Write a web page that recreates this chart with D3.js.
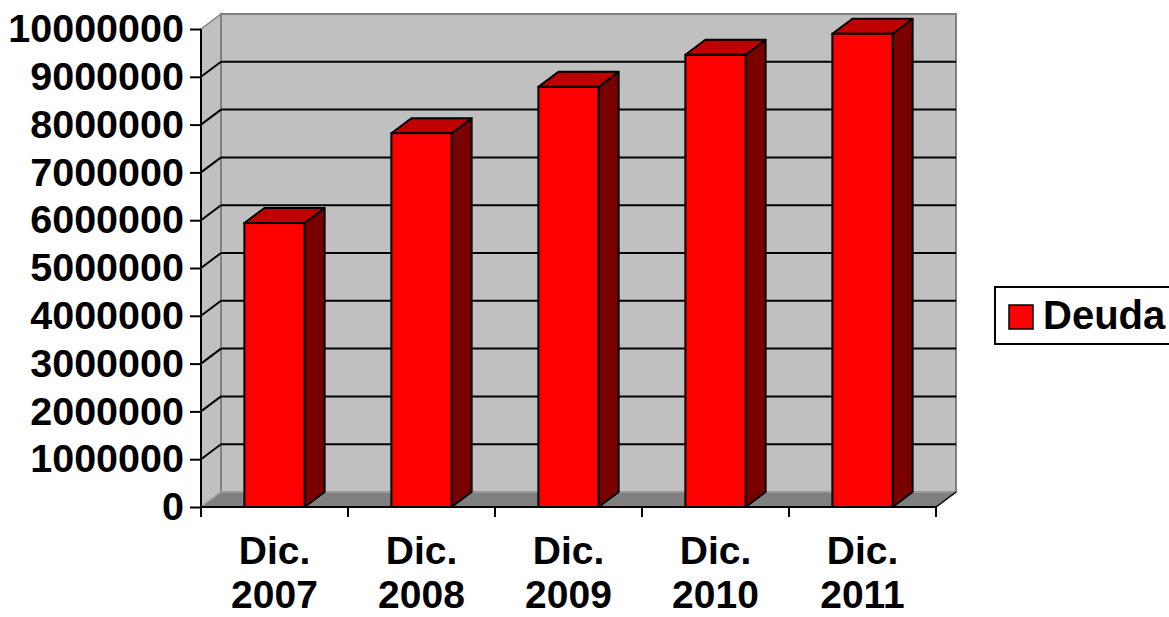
<!DOCTYPE html>
<html>
<head>
<meta charset="utf-8">
<script src="https://cdn.jsdelivr.net/npm/d3@7"></script>
<style>
  body { margin: 0; background: #fff; }
  svg { display: block; font-family: "Liberation Sans", Arial, sans-serif; font-weight: bold; }
</style>
</head>
<body>
<div id="chart"></div>
<script>
const categories = ["Dic. 2007", "Dic. 2008", "Dic. 2009", "Dic. 2010", "Dic. 2011"];
const deuda = [5940000, 7820000, 8790000, 9460000, 9900000];
const yTicks = [0, 1000000, 2000000, 3000000, 4000000, 5000000, 6000000, 7000000, 8000000, 9000000, 10000000];
const seriesName = "Deuda";

const width = 1169;
const height = 617;
const plotLeft = 201, plotRight = 936, plotBottom = 507, plotTop = 29;
const dx = 20, dy = -15;

const svg = d3.select("#chart").append("svg").attr("width", width).attr("height", height);
svg.append("rect").attr("width", width).attr("height", height).attr("fill", "#fff");

const y = d3.scaleLinear().domain([0, 10000000]).range([plotBottom, plotTop]);
const x = d3.scaleBand().domain(categories).range([plotLeft, plotRight]);
const barW = x.bandwidth() * 0.41;

// side wall
svg.append("polygon")
  .attr("points", [[plotLeft, plotBottom], [plotLeft, plotTop], [plotLeft + dx, plotTop + dy], [plotLeft + dx, plotBottom + dy]].join(" "))
  .attr("fill", "#c0c0c0")
  .attr("stroke", "#808080")
  .attr("stroke-width", 1.5);

// back wall
svg.append("rect")
  .attr("x", plotLeft + dx)
  .attr("y", plotTop + dy)
  .attr("width", plotRight - plotLeft)
  .attr("height", plotBottom - plotTop)
  .attr("fill", "#c0c0c0")
  .attr("stroke", "#808080")
  .attr("stroke-width", 2);

// floor
svg.append("polygon")
  .attr("points", [[plotLeft, plotBottom], [plotLeft + dx, plotBottom + dy], [plotRight + dx, plotBottom + dy], [plotRight, plotBottom]].join(" "))
  .attr("fill", "#808080")
  .attr("stroke", "#a0a0a0")
  .attr("stroke-width", 1.5);
svg.append("line")
  .attr("x1", plotRight).attr("y1", plotBottom)
  .attr("x2", plotRight + dx).attr("y2", plotBottom + dy)
  .attr("stroke", "#000").attr("stroke-width", 1.5);

// gridlines
yTicks.filter(t => t > 0 && t < 10000000).forEach(t => {
  const yy = y(t);
  svg.append("line")
    .attr("x1", plotLeft + dx).attr("y1", yy + dy)
    .attr("x2", plotRight + dx).attr("y2", yy + dy)
    .attr("stroke", "#000").attr("stroke-width", 2);
  svg.append("line")
    .attr("x1", plotLeft).attr("y1", yy)
    .attr("x2", plotLeft + dx).attr("y2", yy + dy)
    .attr("stroke", "#000").attr("stroke-width", 2);
});

// axes
const yAxis = d3.axisLeft(y).tickValues(yTicks).tickSize(11).tickFormat(d3.format("d"));
const yg = svg.append("g").attr("transform", `translate(${plotLeft},0)`).call(yAxis);
yg.select(".domain").remove();
yg.selectAll(".tick line").attr("stroke", "#000").attr("stroke-width", 2);
yg.selectAll(".tick text")
  .attr("x", -17)
  .attr("fill", "#000")
  .attr("font-size", "39.5px")
  .attr("font-family", "'Liberation Sans', Arial, sans-serif")
  .attr("font-weight", "bold");
svg.append("line")
  .attr("x1", plotLeft).attr("y1", plotTop)
  .attr("x2", plotLeft).attr("y2", plotBottom + 10)
  .attr("stroke", "#000").attr("stroke-width", 2);

svg.append("line")
  .attr("x1", plotLeft).attr("y1", plotBottom)
  .attr("x2", plotRight).attr("y2", plotBottom)
  .attr("stroke", "#000").attr("stroke-width", 2);
const edges = categories.map(c => x(c)).concat([plotRight]);
svg.selectAll(".xtick")
  .data(edges)
  .enter()
  .append("line")
  .attr("class", "xtick")
  .attr("x1", d => d).attr("x2", d => d)
  .attr("y1", plotBottom).attr("y2", plotBottom + 10)
  .attr("stroke", "#000").attr("stroke-width", 2);

// category labels
categories.forEach(c => {
  const parts = c.split(" ");
  const cx = x(c) + x.bandwidth() / 2;
  const t = svg.append("text")
    .attr("text-anchor", "middle")
    .attr("font-size", "39px")
    .attr("fill", "#000");
  t.append("tspan").attr("x", cx).attr("y", 564).text(parts[0]);
  t.append("tspan").attr("x", cx).attr("y", 608).text(parts[1]);
});

// bars
const bars = svg.selectAll(".bar")
  .data(deuda)
  .enter()
  .append("g")
  .attr("class", "bar");

const barX = i => x(categories[i]) + (x.bandwidth() - barW) / 2;

bars.append("polygon")
  .attr("points", (d, i) => {
    const x0 = barX(i), yt = y(d);
    return [[x0 + barW, yt], [x0 + barW + dx, yt + dy], [x0 + barW + dx, plotBottom + dy], [x0 + barW, plotBottom]].join(" ");
  })
  .attr("fill", "#7a0000")
  .attr("stroke", "#000")
  .attr("stroke-width", 2)
  .attr("stroke-linejoin", "round");

bars.append("polygon")
  .attr("points", (d, i) => {
    const x0 = barX(i), yt = y(d);
    return [[x0, yt], [x0 + dx, yt + dy], [x0 + barW + dx, yt + dy], [x0 + barW, yt]].join(" ");
  })
  .attr("fill", "#c00000")
  .attr("stroke", "#000")
  .attr("stroke-width", 2)
  .attr("stroke-linejoin", "round");

bars.append("rect")
  .attr("x", (d, i) => barX(i))
  .attr("y", d => y(d))
  .attr("width", barW)
  .attr("height", d => plotBottom - y(d))
  .attr("fill", "#ff0000")
  .attr("stroke", "#000")
  .attr("stroke-width", 2);

// legend
svg.append("rect")
  .attr("x", 995).attr("y", 287)
  .attr("width", 185).attr("height", 57)
  .attr("fill", "#fff")
  .attr("stroke", "#000")
  .attr("stroke-width", 2);
svg.append("rect")
  .attr("x", 1009).attr("y", 305)
  .attr("width", 24).attr("height", 24)
  .attr("fill", "#ff0000")
  .attr("stroke", "#000")
  .attr("stroke-width", 1.5);
svg.append("text")
  .attr("x", 1043).attr("y", 329)
  .attr("font-size", "40px")
  .attr("fill", "#000")
  .text(seriesName);
</script>
</body>
</html>
